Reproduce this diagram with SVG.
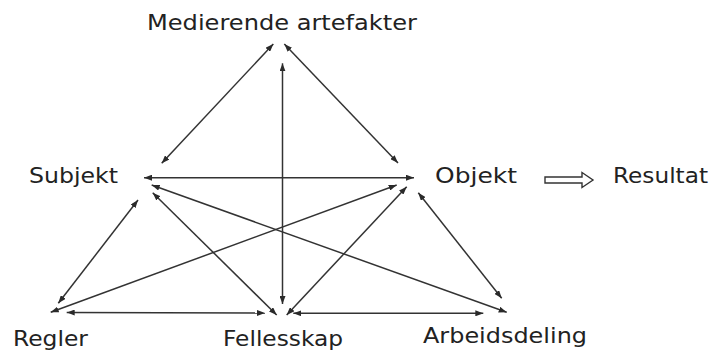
<svg xmlns="http://www.w3.org/2000/svg" width="712" height="353" viewBox="0 0 712 353">
<defs>
<marker id="ah" viewBox="0 0 8 6" refX="8" refY="3" markerWidth="8" markerHeight="6" markerUnits="userSpaceOnUse" orient="auto-start-reverse">
<path d="M0,0 L8,3 L0,6 z" fill="#2a2a2a"/>
</marker>
<style>
.lbl{font-family:"DejaVu Sans","Noto Sans",sans-serif;font-size:20.5px;fill:#222}
.c line{stroke:#333;stroke-width:1.5;marker-start:url(#ah);marker-end:url(#ah)}
</style>
</defs>
<rect width="712" height="353" fill="#fff"/>
<g id="medierende"><text class="lbl" x="147" y="30" textLength="270" lengthAdjust="spacingAndGlyphs">Medierende artefakter</text></g>
<g id="subjekt"><text class="lbl" x="29" y="183" textLength="89" lengthAdjust="spacingAndGlyphs">Subjekt</text></g>
<g id="objekt"><text class="lbl" x="435" y="183" textLength="82" lengthAdjust="spacingAndGlyphs">Objekt</text></g>
<g id="resultat"><text class="lbl" x="613" y="183" textLength="95" lengthAdjust="spacingAndGlyphs">Resultat</text></g>
<g id="regler"><text class="lbl" x="13" y="346" textLength="75" lengthAdjust="spacingAndGlyphs">Regler</text></g>
<g id="fellesskap"><text class="lbl" x="223" y="346" textLength="120" lengthAdjust="spacingAndGlyphs">Fellesskap</text></g>
<g id="arbeidsdeling"><text class="lbl" x="423" y="343" textLength="164" lengthAdjust="spacingAndGlyphs">Arbeidsdeling</text></g>
<g id="connectors" class="c">
<line x1="161.7" y1="163.3" x2="273.3" y2="44"/>
<line x1="398" y1="163" x2="284.3" y2="44"/>
<line x1="282.5" y1="63.3" x2="282.5" y2="304"/>
<line x1="144" y1="177.7" x2="414" y2="177.7"/>
<line x1="138" y1="200" x2="58.3" y2="303.3"/>
<line x1="152.7" y1="192.7" x2="276.7" y2="315"/>
<line x1="151.7" y1="185" x2="506.7" y2="312.3"/>
<line x1="396.7" y1="185" x2="50.7" y2="312.3"/>
<line x1="406.7" y1="186.7" x2="286.7" y2="315"/>
<line x1="418.3" y1="192.7" x2="501.7" y2="298.3"/>
<line x1="66.7" y1="312.5" x2="265" y2="313"/>
<line x1="293.3" y1="313.3" x2="483.3" y2="313.3"/>
<path id="resultat-arrow" d="M545,177 L582,177 L582,172.5 L593,180 L582,187.5 L582,183 L545,183 z" fill="none" stroke="#333" stroke-width="1.4" style="marker:none"/>
</g>
</svg>
